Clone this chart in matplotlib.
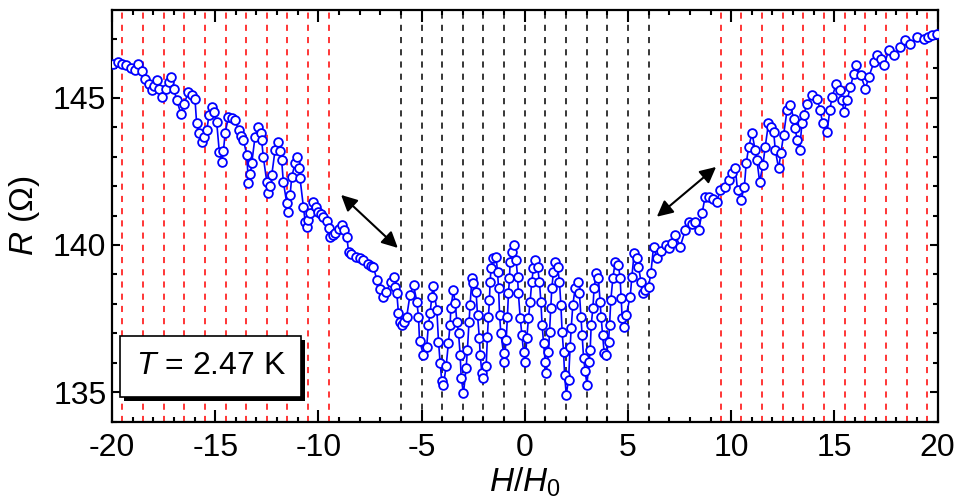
import matplotlib
matplotlib.use("Agg")
import matplotlib.pyplot as plt
from matplotlib.patches import Rectangle

plt.rcParams['font.family'] = ['Liberation Sans', 'DejaVu Sans']
plt.rcParams['mathtext.fontset'] = 'custom'
plt.rcParams['mathtext.rm'] = 'Liberation Sans'
plt.rcParams['mathtext.it'] = 'Liberation Sans:italic'
plt.rcParams['axes.unicode_minus'] = False

# ---- data ----
H = [-19.93, -19.7, -19.53, -19.3, -19.1, -18.89, -18.72, -18.55, -18.4, -18.2,
     -18.08, -17.95, -17.84, -17.7, -17.59, -17.4, -17.25, -17.14, -17.0, -16.87,
     -16.66, -16.5, -16.3, -16.1, -15.98, -15.9, -15.78, -15.66, -15.55, -15.41,
     -15.3, -15.17, -15.05, -14.93, -14.8, -14.68, -14.6, -14.52, -14.36, -14.2,
     -14.04, -13.87, -13.75, -13.63, -13.47, -13.39, -13.3, -13.23, -13.07, -12.91,
     -12.8, -12.75, -12.67, -12.5, -12.42, -12.34, -12.26, -12.1, -11.94, -11.85,
     -11.78, -11.7, -11.53, -11.45, -11.37, -11.29, -11.13, -11.02, -10.95, -10.89,
     -10.73, -10.64, -10.56, -10.48, -10.4, -10.24, -10.1, -10.0, -9.88, -9.76,
     -9.6, -9.51, -9.43, -9.3, -9.19, -9.0, -8.87, -8.75, -8.62, -8.54,
     -8.4, -8.2, -8.0, -7.82, -7.6, -7.45, -7.33, -7.17, -7.0, -6.85,
     -6.7, -6.5, -6.36, -6.28, -6.2, -6.12, -6.05, -5.96, -5.84, -5.72,
     -5.56, -5.39, -5.23, -5.15, -5.1, -4.91, -4.75, -4.67, -4.59, -4.5,
     -4.45, -4.26, -4.18, -4.1, -4.02, -3.94, -3.81, -3.7, -3.62, -3.58,
     -3.46, -3.37, -3.29, -3.21, -3.13, -3.08, -2.97, -2.84, -2.78, -2.7,
     -2.65, -2.56, -2.49, -2.36, -2.29, -2.2, -2.16, -2.08, -2.0, -1.87,
     -1.81, -1.76, -1.71, -1.68, -1.63, -1.52, -1.39, -1.32, -1.27, -1.22,
     -1.16, -1.03, -1.0, -0.9, -0.84, -0.79, -0.74, -0.71, -0.63, -0.51,
     -0.42, -0.35, -0.31, -0.22, -0.14, -0.06, 0.02, 0.1, 0.18, 0.26,
     0.34, 0.42, 0.5, 0.62, 0.71, 0.78, 0.84, 0.91, 0.99, 1.04,
     1.15, 1.2, 1.26, 1.31, 1.39, 1.47, 1.59, 1.68, 1.75, 1.81,
     1.88, 1.93, 2.01, 2.12, 2.2, 2.25, 2.33, 2.44, 2.56, 2.65,
     2.72, 2.78, 2.85, 2.93, 3.01, 3.12, 3.17, 3.22, 3.3, 3.36,
     3.46, 3.57, 3.65, 3.7, 3.77, 3.85, 3.95, 4.06, 4.11, 4.17,
     4.27, 4.38, 4.54, 4.62, 4.67, 4.72, 4.82, 4.92, 5.11, 5.19,
     5.3, 5.43, 5.51, 5.63, 5.72, 5.84, 6.0, 6.11, 6.24, 6.4,
     6.6, 6.85, 7.0, 7.13, 7.29, 7.53, 7.78, 7.94, 8.1, 8.26,
     8.42, 8.59, 8.74, 8.91, 9.1, 9.31, 9.47, 9.71, 9.9, 10.04,
     10.2, 10.31, 10.48, 10.64, 10.73, 10.85, 11.01, 11.17, 11.25, 11.38,
     11.54, 11.65, 11.81, 11.95, 12.06, 12.14, 12.3, 12.41, 12.54, 12.71,
     12.87, 13.03, 13.11, 13.19, 13.32, 13.43, 13.51, 13.68, 13.92, 14.16,
     14.32, 14.43, 14.65, 14.78, 14.89, 15.1, 15.29, 15.38, 15.46, 15.62,
     15.78, 15.94, 16.07, 16.27, 16.51, 16.67, 16.92, 17.08, 17.25, 17.4,
     17.64, 17.89, 18.2, 18.44, 18.68, 19.0, 19.33, 19.55, 19.73, 19.97]

R = [146.16, 146.2, 146.16, 146.1, 146.0, 145.93, 146.14, 145.9, 145.65, 145.45,
     145.25, 145.4, 145.59, 145.3, 145.03, 145.3, 145.55, 145.7, 145.3, 144.92,
     144.46, 144.8, 145.2, 145.1, 144.97, 144.13, 143.8, 143.5, 143.65, 143.9,
     144.4, 144.69, 144.5, 144.18, 143.16, 142.82, 143.2, 143.79, 144.35, 144.3,
     144.26, 143.9, 143.7, 143.56, 143.05, 142.09, 142.4, 142.77, 143.67, 144.01,
     143.8, 143.56, 142.99, 142.15, 141.75, 142.0, 142.37, 143.22, 143.5, 143.2,
     142.88, 142.15, 141.41, 141.13, 141.7, 142.32, 142.77, 142.99, 142.6, 142.26,
     141.3, 140.79, 140.62, 140.85, 141.07, 141.47, 141.3, 141.13, 141.05, 140.96,
     140.8, 140.57, 140.28, 140.35, 140.4, 140.55, 140.68, 140.5, 140.28, 139.77,
     139.7, 139.6, 139.55, 139.49, 139.35, 139.3, 139.26, 138.81, 138.5, 138.25,
     138.4, 138.75, 138.93, 138.59, 138.36, 137.68, 137.4, 137.29, 137.4, 137.57,
     138.31, 138.64, 138.08, 137.57, 136.75, 136.27, 136.55, 137.29, 137.68, 138.25,
     138.61, 137.8, 136.72, 135.99, 135.37, 135.25, 135.88, 136.67, 137.29, 137.85,
     138.47, 138.02, 137.4, 137.01, 136.27, 135.48, 134.97, 135.82, 136.44, 137.4,
     137.97, 138.87, 138.7, 138.42, 137.63, 136.84, 136.27, 135.65, 135.48, 135.88,
     136.89, 137.57, 138.14, 138.76, 139.21, 139.55, 139.6, 139.09, 138.53, 137.63,
     137.0, 136.33, 136.04, 136.78, 137.57, 138.36, 138.87, 139.43, 139.77, 140.0,
     139.49, 138.93, 138.36, 137.52, 136.95, 136.38, 136.04, 136.84, 137.52, 138.08,
     138.76, 139.21, 139.49, 139.26, 138.76, 138.08, 137.29, 136.67, 136.04, 135.65,
     136.38, 137.06, 137.85, 138.53, 139.09, 139.43, 139.26, 138.76, 137.97, 137.06,
     136.38, 135.59, 134.92, 135.42, 136.55, 137.18, 137.97, 138.53, 138.76, 138.36,
     137.57, 136.95, 136.16, 135.71, 135.25, 136.04, 136.44, 137.29, 137.85, 138.53,
     139.04, 138.87, 138.08, 137.57, 136.95, 136.33, 136.27, 136.72, 137.29, 138.14,
     138.87, 139.43, 139.32, 138.87, 138.19, 137.52, 137.23, 137.63, 138.25, 138.93,
     139.72, 139.55, 139.26, 138.76, 138.36, 138.47, 138.59, 139.04, 139.94, 139.55,
     139.8, 140.0, 139.9, 140.06, 140.34, 139.94, 140.51, 140.79, 140.7, 140.79,
     140.51, 141.07, 141.64, 141.64, 141.55, 141.47, 141.86, 141.98, 142.2, 142.43,
     142.6, 141.86, 141.53, 141.98, 142.77, 143.33, 143.79, 143.22, 142.88, 142.15,
     142.71, 143.33, 144.13, 144.0, 143.84, 143.22, 142.6, 143.11, 143.73, 144.58,
     144.75, 144.29, 143.96, 143.56, 143.22, 144.13, 144.41, 144.8, 145.08, 144.97,
     144.58, 144.13, 143.84, 144.58, 145.03, 145.48, 145.25, 144.92, 144.52, 144.92,
     145.37, 145.82, 146.1, 145.76, 145.31, 145.71, 146.21, 146.44, 146.3, 146.1,
     146.61, 146.44, 146.72, 146.95, 146.84, 147.06, 147.0, 147.05, 147.12, 147.18]

black_lines = [-6, -5, -4, -3, -2, -1, 0, 1, 2, 3, 4, 5, 6]
red_lines = [-19.5, -18.5, -17.5, -16.5, -15.5, -14.5, -13.5, -12.5, -11.5, -10.5, -9.5,
             9.5, 10.5, 11.5, 12.5, 13.5, 14.5, 15.5, 16.5, 17.5, 18.5, 19.5]
xticks = [-20, -15, -10, -5, 0, 5, 10, 15, 20]
yticks = [135, 140, 145]

fig = plt.figure(figsize=(9.59, 5.04), dpi=100)
ax = fig.add_axes([0.1168, 0.1633, 0.8608, 0.8169])

for x in black_lines:
    ax.axvline(x, color='black', lw=1.1, ls=(0, (4, 4)), zorder=1)
for x in red_lines:
    ax.axvline(x, color='#ff0000', lw=1.1, ls=(0, (4, 4)), zorder=1)

ax.plot(H, R, color='#0000ff', lw=1.2, marker='o', markersize=6.3,
        markerfacecolor='white', markeredgecolor='#0000ff', markeredgewidth=1.3, zorder=3)

arrow = dict(arrowstyle='<|-|>', color='black', lw=1.5, mutation_scale=24,
             shrinkA=0, shrinkB=0)
ax.annotate('', xy=(-6.15, 139.9), xytext=(-8.9, 141.7), arrowprops=arrow, zorder=4)
ax.annotate('', xy=(6.4, 140.96), xytext=(9.27, 142.65), arrowprops=arrow, zorder=4)

ax.set_xlim(-20, 20)
ax.set_ylim(134.03, 147.98)
ax.set_xticks(xticks)
ax.set_yticks(yticks)
ax.set_xticks(range(-20, 21), minor=True)
ax.set_yticks(range(134, 148), minor=True)
ax.tick_params(axis='both', which='both', direction='in', top=True, right=True,
               width=1.5, labelsize=23, colors='black')
ax.tick_params(axis='x', which='major', length=8.5, pad=8)
ax.tick_params(axis='y', which='major', length=5.5, pad=4)
ax.tick_params(axis='both', which='minor', length=3.8)
for s in ax.spines.values():
    s.set_linewidth(1.6)

ax.set_xlabel(r'$H/H_{\mathrm{0}}$', fontsize=24, labelpad=2)
ax.set_ylabel(r'$R$ ($\Omega$)', fontsize=24, labelpad=8)

# annotation box with shadow (axes fraction coords)
x0, y0, w, h = (120.7 - 112.3) / 825.2, (421.7 - 396.7) / 411.7, 181 / 825.2, 60.7 / 411.7
sh_x, sh_y = 4 / 825.2, -4 / 411.7
ax.add_patch(Rectangle((x0 + sh_x, y0 + sh_y), w, h, transform=ax.transAxes,
                       facecolor='black', edgecolor='black', lw=0, zorder=5))
ax.add_patch(Rectangle((x0, y0), w, h, transform=ax.transAxes,
                       facecolor='white', edgecolor='black', lw=1.2, zorder=6))
ax.text(x0 + w / 2, y0 + h / 2, r'$T$ = 2.47 K', transform=ax.transAxes,
        ha='center', va='center', fontsize=23, zorder=7)

fig.savefig('out.png', dpi=100)
